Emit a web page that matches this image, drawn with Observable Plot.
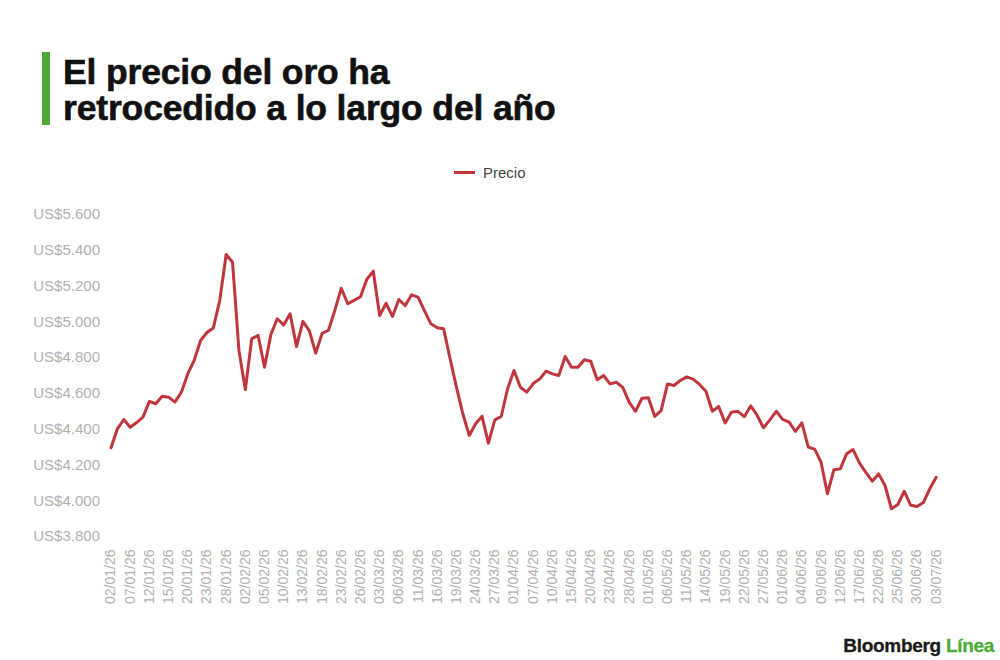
<!DOCTYPE html>
<html>
<head>
<meta charset="utf-8">
<script src="https://cdn.jsdelivr.net/npm/d3@7"></script>
<script src="https://cdn.jsdelivr.net/npm/@observablehq/plot@0.6"></script>
<style>
  html, body { margin: 0; padding: 0; background: #fff; }
  #page { position: relative; width: 1000px; height: 660px; overflow: hidden; font-family: "Liberation Sans", Arial, sans-serif; }
  #bar { position: absolute; left: 42px; top: 52px; width: 8px; height: 73px; background: #4bab34; }
  .tl { position: absolute; left: 63px; font-size: 35.5px; line-height: 35.5px; height: 35.5px; font-weight: 700; color: #111; letter-spacing: -0.15px; -webkit-text-stroke: 0.6px #111; white-space: nowrap; }
  #t1 { top: 55px; }
  #t2 { top: 91px; }
  #legend { position: absolute; left: 454px; top: 162px; height: 20px; display: flex; align-items: center; font-size: 15px; color: #444; }
  #legend .sw { width: 21px; height: 3px; background: #bf373d; margin-right: 8px; }
  #chart { position: absolute; left: 0; top: 190px; }
  #footer { position: absolute; right: 6px; top: 635px; font-size: 19px; font-weight: 700; color: #1a1a1a; letter-spacing: -0.3px; -webkit-text-stroke: 0.3px #1a1a1a; }
  #footer span { color: #4bab34; -webkit-text-stroke: 0.3px #4bab34; }
</style>
</head>
<body>
<div id="page">
  <div id="bar"></div>
  <div class="tl" id="t1">El precio del oro ha</div>
  <div class="tl" id="t2">retrocedido a lo largo del año</div>
  <div id="legend"><div class="sw"></div><div>Precio</div></div>
  <div id="chart"></div>
  <div id="footer">Bloomberg <span>Línea</span></div>
</div>
<script>
const dates = [
  "02/01/26","05/01/26","06/01/26","07/01/26","08/01/26","09/01/26","12/01/26","13/01/26","14/01/26","15/01/26","16/01/26","19/01/26","20/01/26","21/01/26","22/01/26","23/01/26","26/01/26","27/01/26","28/01/26","29/01/26","30/01/26",
  "02/02/26","03/02/26","04/02/26","05/02/26","06/02/26","09/02/26","10/02/26","11/02/26","12/02/26","13/02/26","16/02/26","17/02/26","18/02/26","19/02/26","20/02/26","23/02/26","24/02/26","25/02/26","26/02/26","27/02/26",
  "02/03/26","03/03/26","04/03/26","05/03/26","06/03/26","09/03/26","10/03/26","11/03/26","12/03/26","13/03/26","16/03/26","17/03/26","18/03/26","19/03/26","20/03/26","23/03/26","24/03/26","25/03/26","26/03/26","27/03/26","30/03/26","31/03/26",
  "01/04/26","02/04/26","06/04/26","07/04/26","08/04/26","09/04/26","10/04/26","13/04/26","14/04/26","15/04/26","16/04/26","17/04/26","20/04/26","21/04/26","22/04/26","23/04/26","24/04/26","27/04/26","28/04/26","29/04/26","30/04/26",
  "01/05/26","04/05/26","05/05/26","06/05/26","07/05/26","08/05/26","11/05/26","12/05/26","13/05/26","14/05/26","15/05/26","18/05/26","19/05/26","20/05/26","21/05/26","22/05/26","25/05/26","26/05/26","27/05/26","28/05/26","29/05/26",
  "01/06/26","02/06/26","03/06/26","04/06/26","05/06/26","08/06/26","09/06/26","10/06/26","11/06/26","12/06/26","15/06/26","16/06/26","17/06/26","18/06/26","19/06/26","22/06/26","23/06/26","24/06/26","25/06/26","26/06/26","29/06/26","30/06/26",
  "01/07/26","02/07/26","03/07/26"
];

const prices = [
  4296,4402,4454,4411,4437,4467,4555,4542,4584,4579,4551,4607,4709,4784,4896,4940,4966,5119,5376,5333,4840,
  4622,4905,4924,4746,4930,5017,4982,5045,4862,5002,4951,4825,4935,4953,5065,5188,5101,5120,5140,5238,
  5283,5035,5104,5030,5125,5091,5151,5138,5063,4989,4967,4961,4795,4635,4486,4365,4430,4472,4322,4452,4471,4626,
  4728,4634,4607,4655,4680,4724,4709,4700,4806,4746,4746,4788,4780,4676,4700,4653,4662,4634,4551,4500,4573,
  4575,4471,4504,4653,4644,4672,4692,4680,4650,4612,4500,4527,4435,4495,4500,4470,4530,4478,4408,4452,4500,
  4455,4439,4388,4435,4300,4288,4215,4039,4173,4178,4262,4286,4212,4158,4109,4150,4085,3955,3979,4053,3975,3968,
  3990,4067,4131
];

const xTickLabels = [
  "02/01/26","07/01/26","12/01/26","15/01/26","20/01/26","23/01/26","28/01/26","02/02/26","05/02/26","10/02/26","13/02/26",
  "18/02/26","23/02/26","26/02/26","03/03/26","06/03/26","11/03/26","16/03/26","19/03/26","24/03/26","27/03/26","01/04/26",
  "07/04/26","10/04/26","15/04/26","20/04/26","23/04/26","28/04/26","01/05/26","06/05/26","11/05/26","14/05/26","19/05/26",
  "22/05/26","27/05/26","01/06/26","04/06/26","09/06/26","12/06/26","17/06/26","22/06/26","25/06/26","30/06/26","03/07/26"
];

const yTicks = [3800, 4000, 4200, 4400, 4600, 4800, 5000, 5200, 5400, 5600];

const data = dates.map((d, i) => ({date: d, price: prices[i]}));
const fmt = v => "US$" + d3.format(",")(v).replace(/,/g, ".");

const chart = Plot.plot({
  width: 1000,
  height: 430,
  marginLeft: 110.5,
  marginRight: 64.3,
  marginTop: 24,
  marginBottom: 84,
  style: { fontFamily: "'Liberation Sans', Arial, sans-serif", background: "transparent" },
  x: { type: "point", domain: dates, padding: 0 },
  y: { domain: [3800, 5600] },
  marks: [
    Plot.axisY({ ticks: yTicks, tickFormat: fmt, tickSize: 0, tickPadding: 11, color: "#b0b0b0", fontSize: 15, label: null }),
    Plot.axisX({ ticks: xTickLabels, tickRotate: -90, tickSize: 0, tickPadding: 13, color: "#b0b0b0", fontSize: 14, label: null }),
    Plot.line(data, { x: "date", y: "price", stroke: "#bf373d", strokeWidth: 3, strokeLinejoin: "round" })
  ]
});
document.getElementById("chart").appendChild(chart);
</script>
</body>
</html>
